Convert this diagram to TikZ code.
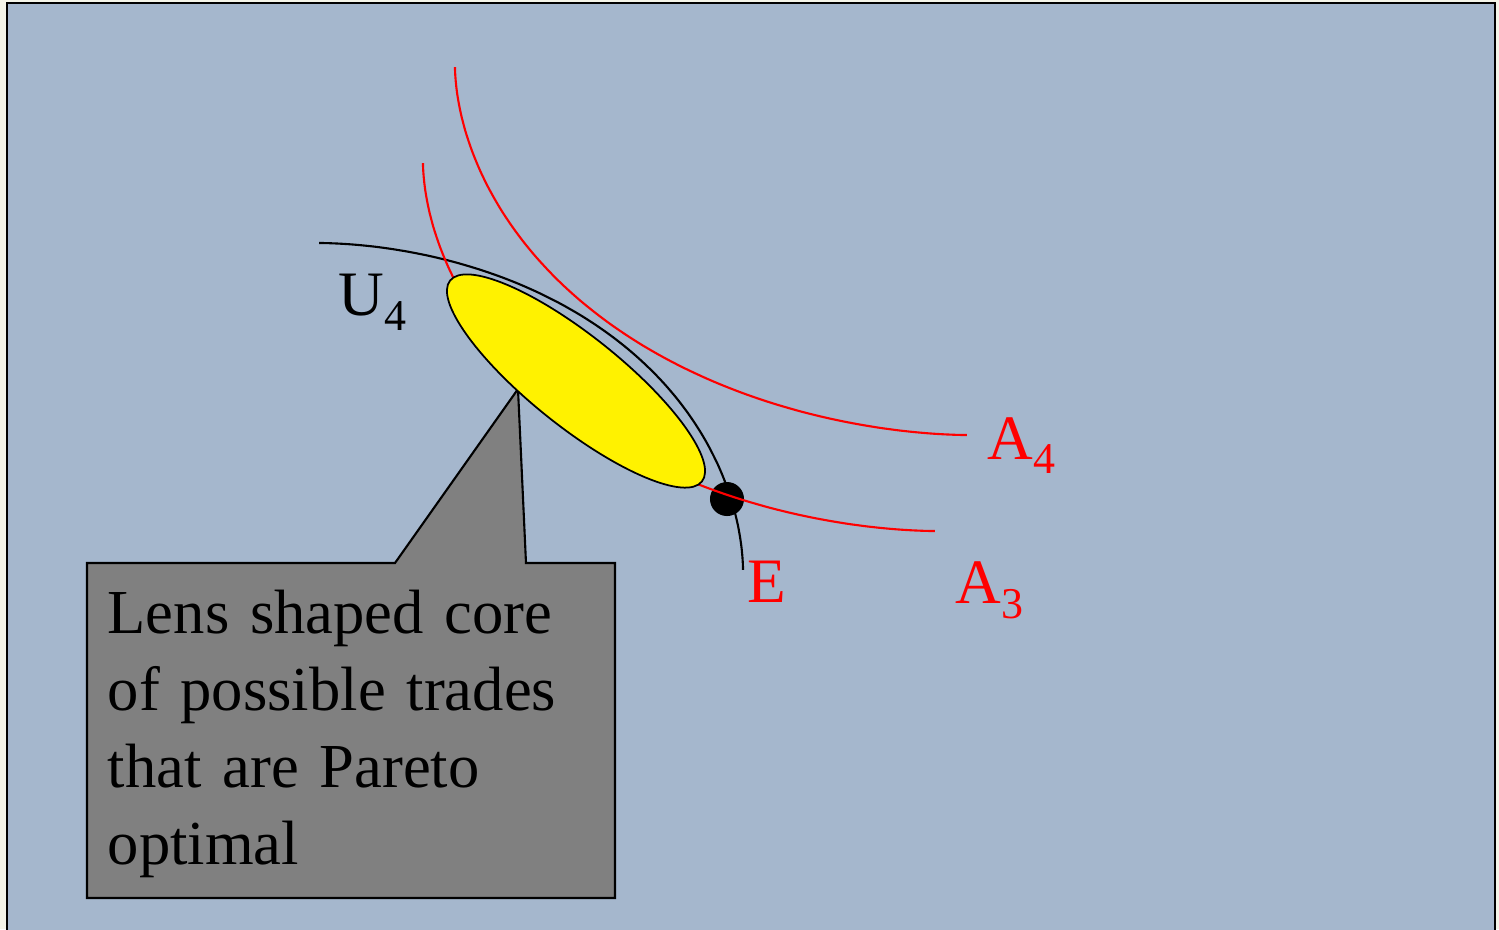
\documentclass[tikz,border=0pt]{standalone}
\usepackage{fontspec}
\setmainfont{Liberation Serif}
\usetikzlibrary{shapes.geometric}
\definecolor{slide}{HTML}{A5B7CD}
\definecolor{paper}{HTML}{F4F4E8}
\definecolor{boxgray}{HTML}{808080}
\begin{document}
\begin{tikzpicture}[x=0.01cm,y=-0.01cm,
  curve/.style={line width=0.6pt},
  redcurve/.style={curve, draw=red},
  lbl/.style={inner sep=0pt, anchor=base west, font=\fontsize{18pt}{21.9pt}\selectfont}]
\useasboundingbox (0,0) rectangle (1499,929);
\fill[paper] (0,0) rectangle (1499,929);
\fill[slide] (7,3) rectangle (1495,935);
\draw[line width=0.6pt] (7,935) -- (7,3) -- (1495,3) -- (1495,935);
% callout
\draw[fill=boxgray, line width=0.6pt] (87,563) -- (395,563) -- (518,389) -- (526,563) -- (615,563) -- (615,898) -- (87,898) -- cycle;
\node[lbl, font=\fontsize{17.8pt}{21.9pt}\selectfont, text width=5cm, align=left] (txt) at (107,633.5) {Lens shaped core\\of possible trades\\that are Pareto\\optimal};
% U4 curve
\draw[curve] plot[domain=0.05:89.95, samples=120, smooth] ({743-424*cos(\x)^3.5}, {243+327*sin(\x)^3.5});
% endowment dot
\node[circle, fill=black, minimum size=0.34cm, inner sep=0pt] (E0) at (727,499) {};
% A3 curve
\draw[redcurve] plot[domain=0.05:89.95, samples=120, smooth] ({423+512*cos(\x)^3.45}, {531-368*sin(\x)^3.45});
% core ellipse
\node[draw, fill=yellow, ellipse, line width=0.5pt, minimum width=3.22cm, minimum height=0.91cm, inner sep=0pt, rotate=-38.6] (core) at (576,381) {};
% A4 curve
\draw[redcurve] plot[domain=0.05:89.95, samples=120, smooth] ({455+512*cos(\x)^3.45}, {435-368*sin(\x)^3.45});
% labels
\node[lbl] (U4) at (338,315) {U\raisebox{-4.3pt}{\fontsize{12.5pt}{12.5pt}\selectfont 4}};
\node[lbl, text=red] (A4) at (987,459) {A\raisebox{-4.2pt}{\fontsize{12.5pt}{12.5pt}\selectfont 4}};
\node[lbl, text=red] (A3) at (955,603) {A\raisebox{-4.3pt}{\fontsize{12.5pt}{12.5pt}\selectfont 3}};
\node[lbl, text=red] (E) at (747,602) {E};
\end{tikzpicture}
\end{document}
